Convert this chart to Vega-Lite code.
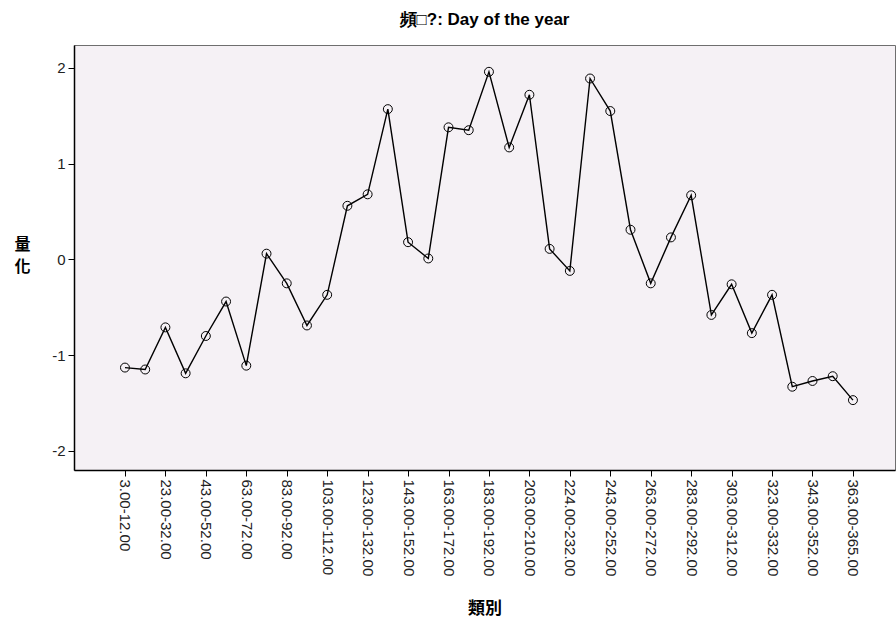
{
  "$schema": "https://vega.github.io/schema/vega-lite/v6.json",
  "width": 821,
  "height": 425,
  "autosize": {"type": "none"},
  "padding": {"left": 74, "top": 45, "right": 1, "bottom": 155},
  "background": "white",
  "title": {"text": "頻□?: Day of the year", "font": "Liberation Sans", "fontSize": 17, "fontWeight": "bold", "color": "#000000", "offset": 16, "anchor": "middle"},
  "config": {
    "view": {"fill": "#F5F1F5", "stroke": "#6E6E6E", "strokeWidth": 1},
    "axis": {"labelFont": "Liberation Sans", "labelFontSize": 15, "labelColor": "#222222", "domainColor": "#000000", "tickColor": "#000000", "grid": false, "titleFont": "Noto Sans CJK TC", "titleFontSize": 17, "titleFontWeight": "bold", "titleColor": "#000000"}
  },
  "data": {"values": [
    {"cat": "3.00-12.00", "v": -1.13},
    {"cat": "13.00-22.00", "v": -1.15},
    {"cat": "23.00-32.00", "v": -0.71},
    {"cat": "33.00-42.00", "v": -1.19},
    {"cat": "43.00-52.00", "v": -0.80},
    {"cat": "53.00-62.00", "v": -0.44},
    {"cat": "63.00-72.00", "v": -1.11},
    {"cat": "73.00-82.00", "v": 0.06},
    {"cat": "83.00-92.00", "v": -0.25},
    {"cat": "93.00-102.00", "v": -0.69},
    {"cat": "103.00-112.00", "v": -0.37},
    {"cat": "113.00-122.00", "v": 0.56},
    {"cat": "123.00-132.00", "v": 0.68},
    {"cat": "133.00-142.00", "v": 1.57},
    {"cat": "143.00-152.00", "v": 0.18},
    {"cat": "153.00-162.00", "v": 0.01},
    {"cat": "163.00-172.00", "v": 1.38},
    {"cat": "173.00-182.00", "v": 1.35},
    {"cat": "183.00-192.00", "v": 1.96},
    {"cat": "193.00-202.00", "v": 1.17},
    {"cat": "203.00-210.00", "v": 1.72},
    {"cat": "211.00-223.00", "v": 0.11},
    {"cat": "224.00-232.00", "v": -0.12},
    {"cat": "233.00-242.00", "v": 1.89},
    {"cat": "243.00-252.00", "v": 1.55},
    {"cat": "253.00-262.00", "v": 0.31},
    {"cat": "263.00-272.00", "v": -0.25},
    {"cat": "273.00-282.00", "v": 0.23},
    {"cat": "283.00-292.00", "v": 0.67},
    {"cat": "293.00-302.00", "v": -0.58},
    {"cat": "303.00-312.00", "v": -0.26},
    {"cat": "313.00-322.00", "v": -0.77},
    {"cat": "323.00-332.00", "v": -0.37},
    {"cat": "333.00-342.00", "v": -1.33},
    {"cat": "343.00-352.00", "v": -1.27},
    {"cat": "353.00-362.00", "v": -1.22},
    {"cat": "363.00-365.00", "v": -1.47}
  ]},
  "encoding": {
    "x": {
      "field": "cat", "type": "nominal", "sort": null,
      "scale": {"type": "point", "padding": 0.3, "align": 0.867,
        "domain": ["pad1", "pad2", "3.00-12.00", "13.00-22.00", "23.00-32.00", "33.00-42.00", "43.00-52.00", "53.00-62.00", "63.00-72.00", "73.00-82.00", "83.00-92.00", "93.00-102.00", "103.00-112.00", "113.00-122.00", "123.00-132.00", "133.00-142.00", "143.00-152.00", "153.00-162.00", "163.00-172.00", "173.00-182.00", "183.00-192.00", "193.00-202.00", "203.00-210.00", "211.00-223.00", "224.00-232.00", "233.00-242.00", "243.00-252.00", "253.00-262.00", "263.00-272.00", "273.00-282.00", "283.00-292.00", "293.00-302.00", "303.00-312.00", "313.00-322.00", "323.00-332.00", "333.00-342.00", "343.00-352.00", "353.00-362.00", "363.00-365.00", "pad3", "pad4"]},
      "axis": {
        "title": "類別", "titlePadding": 25,
        "values": ["3.00-12.00", "23.00-32.00", "43.00-52.00", "63.00-72.00", "83.00-92.00", "103.00-112.00", "123.00-132.00", "143.00-152.00", "163.00-172.00", "183.00-192.00", "203.00-210.00", "224.00-232.00", "243.00-252.00", "263.00-272.00", "283.00-292.00", "303.00-312.00", "323.00-332.00", "343.00-352.00", "363.00-365.00"],
        "labelAngle": 90, "labelAlign": "left", "labelBaseline": "middle", "labelPadding": 3, "tickSize": 6, "labelOverlap": false, "domainWidth": 1.5
      }
    },
    "y": {
      "field": "v", "type": "quantitative",
      "scale": {"domain": [-2.2, 2.24], "nice": false, "zero": false},
      "axis": {
        "title": ["量", "化"], "titleAngle": 0, "titleAlign": "center", "titleBaseline": "middle", "titleFontSize": 16, "titleLineHeight": 22, "titleX": -52, "titleY": 199,
        "values": [-2, -1, 0, 1, 2], "labelExpr": "replace(datum.label, '−', '-')", "tickSize": 6, "labelPadding": 3, "domainWidth": 1.5
      }
    }
  },
  "layer": [
    {"mark": {"type": "line", "color": "#000000", "strokeWidth": 1.4}},
    {"mark": {"type": "point", "shape": "circle", "filled": false, "stroke": "#000000", "strokeWidth": 1, "size": 80, "opacity": 1}}
  ]
}
